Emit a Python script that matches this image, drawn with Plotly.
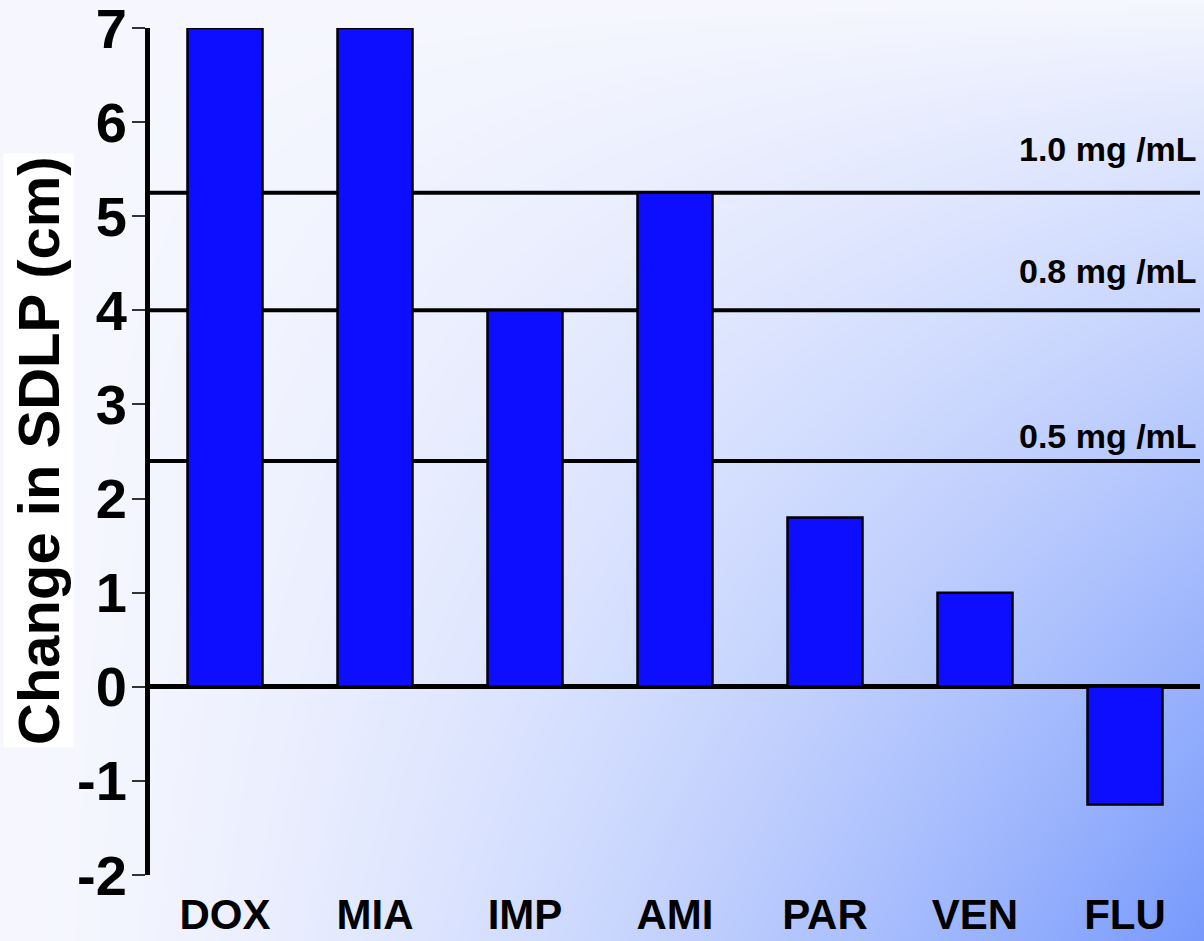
import base64
import struct
import zlib

import numpy as np
import plotly.graph_objects as go

# ---------------- data ----------------
drugs = ["DOX", "MIA", "IMP", "AMI", "PAR", "VEN", "FLU"]
sdlp_change = [7.0, 7.0, 4.0, 5.25, 1.8, 1.0, -1.25]

bac_levels = [5.25, 4.0, 2.4]
bac_labels = ["1.0 mg /mL", "0.8 mg /mL", "0.5 mg /mL"]

y_ticks = [-2, -1, 0, 1, 2, 3, 4, 5, 6, 7]
y_tick_text = ["-2", "-1", "0", "1", "2", "3", "4", "5", "6", "7"]

# ---------------- layout geometry ----------------
W, H = 1204, 941
ML, MR, MT, MB = 150, 4, 28, 66
PW, PH = W - ML - MR, H - MT - MB
FONT = "Liberation Sans, Arial, sans-serif"


# ---------------- gradient background (PNG data URI) ----------------
def gradient_uri(w, h):
    xs = np.linspace(0, 1, w)[None, :]
    ys = np.linspace(0, 1, h)[:, None]
    t = (xs ** 1.5) * (ys ** 0.85)
    c0 = np.array([247, 248, 255], dtype=float)
    c1 = np.array([120, 154, 252], dtype=float)
    img = (c0[None, None, :] * (1 - t[..., None]) + c1[None, None, :] * t[..., None])
    img = np.clip(img, 0, 255).astype(np.uint8)
    raw = b"".join(b"\x00" + img[r].tobytes() for r in range(h))

    def chunk(tag, data):
        return (struct.pack(">I", len(data)) + tag + data
                + struct.pack(">I", zlib.crc32(tag + data) & 0xFFFFFFFF))

    png = (b"\x89PNG\r\n\x1a\n"
           + chunk(b"IHDR", struct.pack(">IIBBBBB", w, h, 8, 2, 0, 0, 0))
           + chunk(b"IDAT", zlib.compress(raw, 9))
           + chunk(b"IEND", b""))
    return "data:image/png;base64," + base64.b64encode(png).decode()


fig = go.Figure()

fig.add_trace(go.Bar(
    x=list(range(len(drugs))),
    y=sdlp_change,
    width=0.5,
    marker=dict(color="#0d0dff", line=dict(color="black", width=2.5)),
    hoverinfo="skip",
))

shapes = []
for lvl in bac_levels:
    shapes.append(dict(type="line", xref="paper", yref="y", x0=0, x1=1,
                       y0=lvl, y1=lvl, layer="below",
                       line=dict(color="black", width=4)))

label_shift = [44, 39, 25]
annotations = []
for lvl, txt, sh in zip(bac_levels, bac_labels, label_shift):
    annotations.append(dict(xref="paper", yref="y", x=0.999, y=lvl,
                            xanchor="right", yanchor="middle", yshift=sh,
                            text=txt, showarrow=False,
                            font=dict(family=FONT, size=34, color="black", weight="bold")))

# y-axis title with white box
annotations.append(dict(xref="paper", yref="paper",
                        x=(39 - ML) / PW, y=(H - MB - 451) / PH,
                        xanchor="center", yanchor="middle",
                        text="Change in SDLP (cm)", textangle=-90, showarrow=False,
                        bgcolor="white", borderpad=2,
                        font=dict(family=FONT, size=58, color="black", weight="bold")))

fig.update_layout(
    template="none",
    width=W, height=H,
    autosize=False,
    margin=dict(l=ML, r=MR, t=MT, b=MB, pad=0, autoexpand=False),
    paper_bgcolor="rgba(0,0,0,0)",
    plot_bgcolor="rgba(0,0,0,0)",
    showlegend=False,
    shapes=shapes,
    annotations=annotations,
    images=[dict(source=gradient_uri(602, 471), xref="paper", yref="paper",
                 x=-ML / PW, y=1 + MT / PH, sizex=W / PW, sizey=H / PH,
                 xanchor="left", yanchor="top", sizing="stretch", layer="below")],
    xaxis=dict(
        automargin=False,
        range=[-0.5, len(drugs) - 0.5],
        tickmode="array", tickvals=list(range(len(drugs))), ticktext=drugs,
        ticks="outside", ticklen=3, tickcolor="rgba(0,0,0,0)",
        showline=False, showgrid=False, zeroline=False,
        ticklabeloverflow="allow",
        tickfont=dict(family=FONT, size=42, color="black", weight="bold"),
        fixedrange=True,
    ),
    xaxis2=dict(
        automargin=False,
        overlaying="x", anchor="free", position=2 / 9, side="bottom",
        range=[-0.5, len(drugs) - 0.5],
        tickmode="array", tickvals=[i + 0.5 for i in range(len(drugs))],
        ticks="outside", ticklen=13, tickwidth=1.5, tickcolor="#333",
        showticklabels=False, showline=False, showgrid=False, zeroline=False,
        fixedrange=True,
    ),
    yaxis=dict(
        automargin=False,
        range=[-2, 7],
        tickmode="array", tickvals=y_ticks, ticktext=y_tick_text,
        ticks="outside", ticklen=13, tickwidth=1.5, tickcolor="#333",
        ticklabelstandoff=-6,
        showline=True, linewidth=5, linecolor="black",
        showgrid=False,
        zeroline=True, zerolinewidth=5, zerolinecolor="black",
        ticklabeloverflow="allow",
        tickfont=dict(family=FONT, size=56, color="black", weight="bold"),
        fixedrange=True,
    ),
)

fig.write_html("out.html", config={"displayModeBar": False},
               post_script="document.body.style.margin='0';document.body.style.overflow='hidden';")
